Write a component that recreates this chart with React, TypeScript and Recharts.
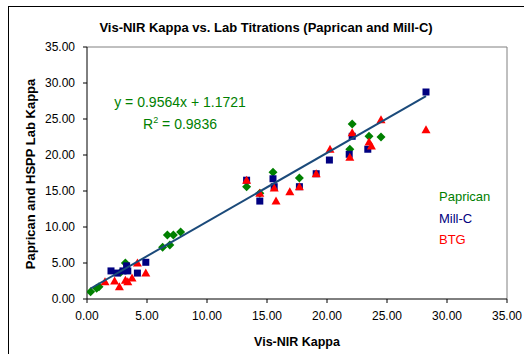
import React from "react";
import {
  ScatterChart,
  Scatter,
  XAxis,
  YAxis,
  ReferenceLine,
} from "recharts";

type Pt = { x: number; y: number };

// Vis-NIR kappa (x) against lab titration kappa (y)
const paprican: Pt[] = [
  { x: 0.3, y: 1.0 }, { x: 0.8, y: 1.5 }, { x: 1.0, y: 1.7 },
  { x: 2.8, y: 3.7 }, { x: 3.2, y: 5.0 }, { x: 6.3, y: 7.2 },
  { x: 6.9, y: 7.5 }, { x: 6.7, y: 8.9 }, { x: 7.2, y: 8.9 },
  { x: 7.8, y: 9.3 }, { x: 13.3, y: 15.6 }, { x: 14.4, y: 14.7 },
  { x: 15.5, y: 17.6 }, { x: 17.7, y: 16.8 }, { x: 22.1, y: 24.3 },
  { x: 21.9, y: 20.8 }, { x: 23.5, y: 22.6 }, { x: 24.5, y: 22.5 },
];

const millC: Pt[] = [
  { x: 2.0, y: 3.9 }, { x: 2.5, y: 3.6 }, { x: 3.0, y: 3.9 },
  { x: 3.4, y: 3.9 }, { x: 3.3, y: 4.6 }, { x: 4.2, y: 3.6 },
  { x: 4.9, y: 5.1 }, { x: 13.3, y: 16.5 }, { x: 14.4, y: 13.6 },
  { x: 15.5, y: 16.7 }, { x: 15.6, y: 15.6 }, { x: 17.7, y: 15.6 },
  { x: 19.1, y: 17.4 }, { x: 20.2, y: 19.3 }, { x: 22.1, y: 22.6 },
  { x: 21.85, y: 20.1 }, { x: 23.4, y: 20.8 }, { x: 28.25, y: 28.75 },
];

const btg: Pt[] = [
  { x: 1.5, y: 2.4 }, { x: 2.3, y: 2.5 }, { x: 2.7, y: 1.7 },
  { x: 3.2, y: 2.6 }, { x: 3.4, y: 2.4 }, { x: 3.75, y: 2.9 },
  { x: 4.2, y: 5.0 }, { x: 4.9, y: 3.6 }, { x: 13.3, y: 16.5 },
  { x: 14.4, y: 14.7 }, { x: 15.6, y: 15.4 }, { x: 15.75, y: 13.6 },
  { x: 16.9, y: 14.9 }, { x: 17.7, y: 15.6 }, { x: 19.1, y: 17.4 },
  { x: 20.25, y: 20.8 }, { x: 22.1, y: 23.1 }, { x: 21.9, y: 19.7 },
  { x: 23.5, y: 21.8 }, { x: 23.7, y: 21.25 }, { x: 24.5, y: 24.9 },
  { x: 28.25, y: 23.5 },
];

const axisTicks = [0, 5, 10, 15, 20, 25, 30, 35];

// linear trendline fitted in the workbook
const slope = 0.9564;
const intercept = 1.1721;
const rSquared = 0.9836;

const allX = [...paprican, ...millC, ...btg].map((p) => p.x);
const trend: Pt[] = [Math.min(...allX), Math.max(...allX)].map((x) => ({
  x,
  y: slope * x + intercept,
}));

const FONT = "'Liberation Sans', Arial, sans-serif";
const GREEN = "#008000";
const NAVY = "#000080";
const RED = "#ff0000";

const Diamond = (p: any) => {
  const { cx, cy } = p;
  const r = 4.5;
  return (
    <polygon
      points={`${cx},${cy - r} ${cx + r},${cy} ${cx},${cy + r} ${cx - r},${cy}`}
      fill={GREEN}
    />
  );
};

const Square = (p: any) => {
  const { cx, cy } = p;
  return <rect x={cx - 3.5} y={cy - 3.5} width={7} height={7} fill={NAVY} />;
};

const Triangle = (p: any) => {
  const { cx, cy } = p;
  return (
    <polygon
      points={`${cx},${cy - 4.5} ${cx + 4.5},${cy + 3.5} ${cx - 4.5},${cy + 3.5}`}
      fill={RED}
    />
  );
};

const NoDot = () => <g />;

const tickStyle = { fontSize: 12, fill: "#000", fontFamily: FONT };

export default function App() {
  return (
    <div
      style={{
        position: "fixed",
        left: 0,
        top: 0,
        width: 524,
        height: 354,
        background: "#fff",
        overflow: "hidden",
        fontFamily: FONT,
      }}
    >
      <div
        style={{
          position: "absolute",
          left: 8,
          top: 6,
          width: 540,
          height: 370,
          border: "1px solid #000",
        }}
      />
      <ScatterChart
        width={524}
        height={354}
        margin={{ top: 47, right: 17, bottom: 0, left: 0 }}
        style={{ position: "absolute", left: 0, top: 0 }}
      >
        <XAxis
          type="number"
          dataKey="x"
          domain={[0, 35]}
          ticks={axisTicks}
          tickFormatter={(v: number) => v.toFixed(2)}
          tick={tickStyle}
          tickSize={4}
          tickMargin={8}
          stroke="#000"
          height={55}
          allowDataOverflow
        />
        <YAxis
          type="number"
          dataKey="y"
          domain={[0, 35]}
          ticks={axisTicks}
          tickFormatter={(v: number) => v.toFixed(2)}
          tick={tickStyle}
          tickSize={4}
          tickMargin={8}
          stroke="#000"
          width={87}
          allowDataOverflow
        />
        <ReferenceLine y={35} stroke="#808080" />
        <ReferenceLine x={35} stroke="#808080" />
        <Scatter data={paprican} shape={Diamond} isAnimationActive={false} />
        <Scatter data={millC} shape={Square} isAnimationActive={false} />
        <Scatter data={btg} shape={Triangle} isAnimationActive={false} />
        <Scatter
          data={trend}
          line={{ stroke: "#1b4a7a", strokeWidth: 2 }}
          shape={NoDot}
          isAnimationActive={false}
        />
      </ScatterChart>

      <div
        style={{
          position: "absolute",
          left: 0,
          width: 532,
          top: 20,
          textAlign: "center",
          fontSize: 13,
          fontWeight: "bold",
        }}
      >
        Vis-NIR Kappa vs. Lab Titrations (Paprican and Mill-C)
      </div>

      <div
        style={{
          position: "absolute",
          left: 30,
          top: 174,
          transform: "translate(-50%, -50%) rotate(-90deg)",
          whiteSpace: "nowrap",
          fontSize: 13,
          fontWeight: "bold",
        }}
      >
        Paprican and HSPP Lab Kappa
      </div>

      <div
        style={{
          position: "absolute",
          left: 87,
          width: 420,
          top: 335,
          textAlign: "center",
          fontSize: 12.5,
          fontWeight: "bold",
        }}
      >
        Vis-NIR Kappa
      </div>

      <div
        style={{
          position: "absolute",
          left: 80,
          width: 200,
          top: 91,
          textAlign: "center",
          fontSize: 14,
          lineHeight: "22px",
          color: GREEN,
        }}
      >
        <div>
          y = {slope.toFixed(4)}x + {intercept.toFixed(4)}
        </div>
        <div>
          R<sup style={{ fontSize: 9, lineHeight: 0 }}>2</sup> ={" "}
          {rSquared.toFixed(4)}
        </div>
      </div>

      <div
        style={{
          position: "absolute",
          left: 439,
          top: 186,
          fontSize: 13,
          lineHeight: "21.5px",
        }}
      >
        <div style={{ color: GREEN }}>Paprican</div>
        <div style={{ color: NAVY }}>Mill-C</div>
        <div style={{ color: RED }}>BTG</div>
      </div>
    </div>
  );
}
